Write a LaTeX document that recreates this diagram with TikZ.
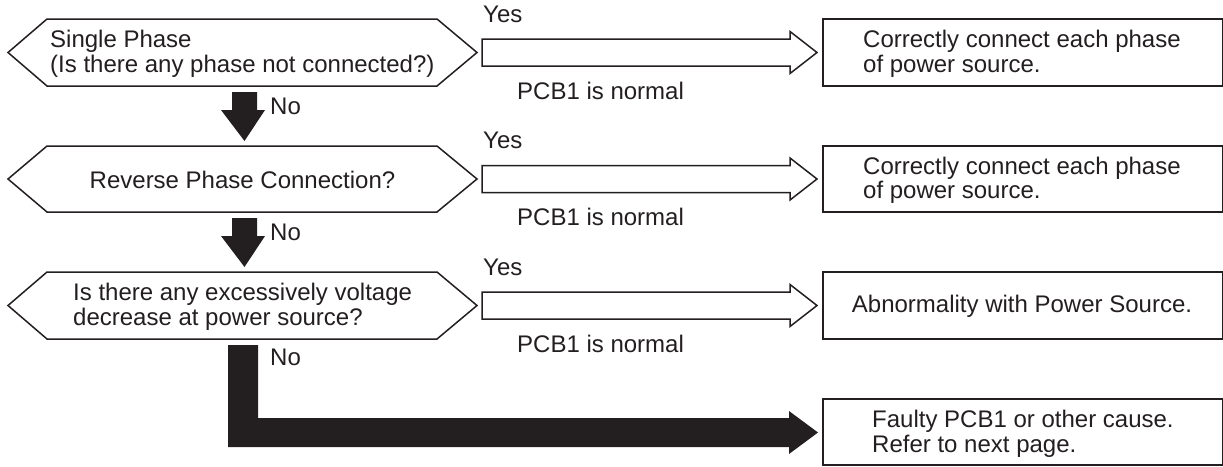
\documentclass[tikz,border=0pt]{standalone}
\usepackage{fontspec}
\setmainfont{Liberation Sans}
\definecolor{ink}{HTML}{231F20}
\begin{document}
\begin{tikzpicture}[x=1pt,y=-1pt,
  outline/.style={draw=ink,line width=1.5pt,line join=miter},
  txt/.style={inner sep=0pt,text=ink,font=\fontsize{24}{24.5}\selectfont},
  lbl/.style={inner sep=0pt,text=ink,font=\fontsize{24}{24.5}\selectfont,anchor=west}]
\useasboundingbox (0,0) rectangle (1223,466);
% hexagons
\foreach \t/\b/\n in {19/86/h1,146/212/h2,272/339/h3}{
  \pgfmathsetmacro\m{(\t+\b)/2}
  \draw[outline,fill=white] (8,\m) -- (47,\t) -- (437,\t) -- (477,\m) -- (437,\b) -- (47,\b) -- cycle;
  \coordinate (\n) at (242.5,\m);
}
\node[txt,align=left,anchor=west] (t1) at (50,54) {Single Phase\\(Is there any phase not connected?)};
\node[txt] (t2) at (242.5,180) {Reverse Phase Connection?};
\node[txt,align=left,anchor=west] (t3) at (73,307) {Is there any excessively voltage\\decrease at power source?};
% boxes
\node[outline,minimum width=400pt,minimum height=67pt,anchor=west,inner sep=0pt] (b1) at (822,52.5) {};
\node[outline,minimum width=400pt,minimum height=66pt,anchor=west,inner sep=0pt] (b2) at (822,179) {};
\node[outline,minimum width=400pt,minimum height=67pt,anchor=west,inner sep=0pt] (b3) at (822,305.5) {};
\node[outline,minimum width=400pt,minimum height=66pt,anchor=west,inner sep=0pt] (b4) at (822,432) {};
\node[txt,align=left,anchor=west] (bt1) at (863,54) {Correctly connect each phase\\of power source.};
\node[txt,align=left,anchor=west] (bt2) at (863,180.5) {Correctly connect each phase\\of power source.};
\node[txt] (bt3) at (1022,306.5) {Abnormality with Power Source.};
\node[txt,align=left,anchor=west] (bt4) at (872,434) {Faulty PCB1 or other cause.\\Refer to next page.};
% hollow arrows
\foreach \m in {52.5,179,305.5}{
  \draw[outline] (482,\m-13.5) -- (790,\m-13.5) -- (790,\m-21) -- (817,\m) -- (790,\m+21) -- (790,\m+13.5) -- (482,\m+13.5) -- cycle;
  \node[lbl] at (483,\m-38.5) {Yes};
  \node[lbl] at (517,\m+38) {PCB1 is normal};
}
% solid down arrows
\foreach \t/\tip in {92/141,218/267}{
  \fill[ink] (232,\t) -- (257,\t) -- (257,\t+18) -- (265,\t+18) -- (244.5,\tip) -- (221,\t+18) -- (232,\t+18) -- cycle;
  \node[lbl] at (270,\t+14) {No};
}
% L arrow
\fill[ink] (228,345) -- (258,345) -- (258,418) -- (789,418) -- (789,411) -- (818,432.5) -- (789,454) -- (789,447) -- (228,447) -- cycle;
\node[lbl] at (270,357) {No};
\end{tikzpicture}
\end{document}
